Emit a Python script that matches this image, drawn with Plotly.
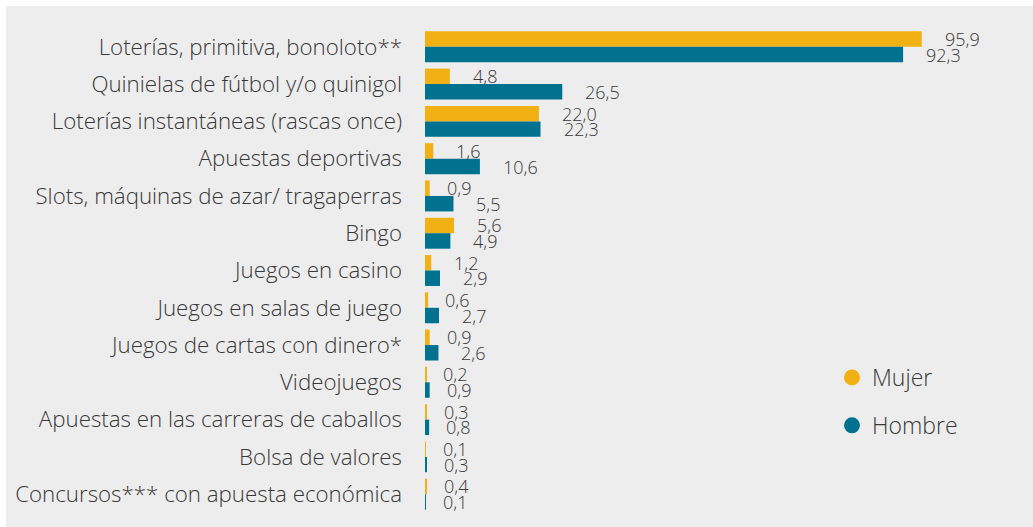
import plotly.graph_objects as go

categories = [
    "Loterías, primitiva, bonoloto**",
    "Quinielas de fútbol y/o quinigol",
    "Loterías instantáneas (rascas once)",
    "Apuestas deportivas",
    "Slots, máquinas de azar/ tragaperras",
    "Bingo",
    "Juegos en casino",
    "Juegos en salas de juego",
    "Juegos de cartas con dinero*",
    "Videojuegos",
    "Apuestas en las carreras de caballos",
    "Bolsa de valores",
    "Concursos*** con apuesta económica",
]
mujer = [95.9, 4.8, 22.0, 1.6, 0.9, 5.6, 1.2, 0.6, 0.9, 0.2, 0.3, 0.1, 0.4]
hombre = [92.3, 26.5, 22.3, 10.6, 5.5, 4.9, 2.9, 2.7, 2.6, 0.9, 0.8, 0.3, 0.1]
series_names = ["Mujer", "Hombre"]

YELLOW = "#F1B113"
TEAL = "#00718F"
BG = "#EDEDED"
TXT = "#383838"
FONT = "Open Sans"

W, H = 1033, 527
ML, MR, MT, MB = 425, 13, 25, 11
pw = W - ML - MR
ph = H - MT - MB
xmax = pw / 5.18

fig = go.Figure()
fig.add_trace(go.Bar(y=categories, x=mujer, orientation="h", name=series_names[0],
                     marker=dict(color=YELLOW, line=dict(width=0)), showlegend=False))
fig.add_trace(go.Bar(y=categories, x=hombre, orientation="h", name=series_names[1],
                     marker=dict(color=TEAL, line=dict(width=0)), showlegend=False))

# legend entries as circles
for nm, col, grp in [(series_names[0], YELLOW, "a"), (series_names[1], TEAL, "b")]:
    fig.add_trace(go.Scatter(x=[None], y=[None], mode="markers", name=nm,
                             legendgroup=grp,
                             marker=dict(color=col, size=18, symbol="circle")))

bargap = 0.17
step_px = ph / len(categories)
off = (1 - bargap) / 4 * step_px

annotations = []
for vals, sgn in [(mujer, 1), (hombre, -1)]:
    for c, v in zip(categories, vals):
        annotations.append(dict(x=v, y=c, text=f"{v:.1f}".replace(".", ","), showarrow=False,
                                xanchor="left", yanchor="middle",
                                xshift=21 if v >= 1 else 15, yshift=sgn * off,
                                font=dict(family=FONT, size=18, color=TXT, weight=300)))

fig.update_layout(
    width=W, height=H,
    margin=dict(l=ML, r=MR, t=MT, b=MB, pad=0),
    barmode="group", bargap=bargap, bargroupgap=0,
    paper_bgcolor="white", plot_bgcolor="rgba(0,0,0,0)",
    font=dict(family=FONT, color=TXT),
    xaxis=dict(range=[0, xmax], visible=False, fixedrange=True),
    yaxis=dict(autorange="reversed", showgrid=False, zeroline=False, showline=False,
               ticks="", ticklabelstandoff=22, fixedrange=True,
               tickfont=dict(family=FONT, size=22.3, color=TXT, weight=300)),
    legend=dict(x=(832 - ML) / pw, y=(H - MB - 356) / ph, xanchor="left", yanchor="top",
                font=dict(family=FONT, size=23, color=TXT, weight=300),
                bgcolor="rgba(0,0,0,0)", tracegroupgap=15, itemsizing="trace"),
    annotations=annotations,
    shapes=[dict(type="rect", xref="paper", yref="paper", layer="below",
                 x0=(6 - ML) / pw, x1=(W - ML) / pw,
                 y0=-(MB + 2) / ph, y1=(H - MB - 6) / ph,
                 fillcolor=BG, line=dict(width=0))],
)

fig.write_html("out.html", config={"displayModeBar": False},
               post_script="document.body.style.margin='0';")
